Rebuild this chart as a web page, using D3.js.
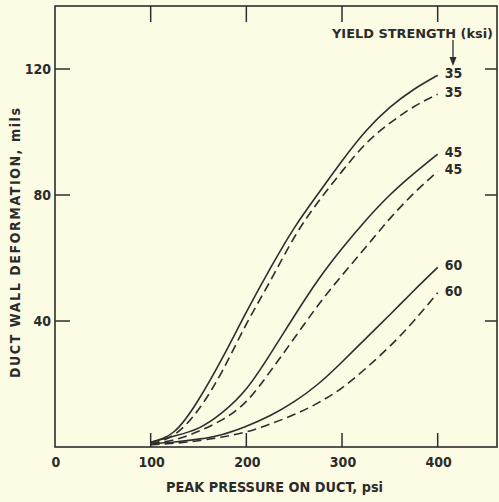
<!DOCTYPE html>
<html>
<head>
<meta charset="utf-8">
<script src="https://cdn.jsdelivr.net/npm/d3@7"></script>
<style>
  html, body { margin: 0; padding: 0; background: #fcfbe3; }
  svg { display: block; }
  text { font-family: "DejaVu Sans Condensed", "Liberation Sans Narrow", "DejaVu Sans", sans-serif; font-weight: bold; fill: #2b2b2b; }
</style>
</head>
<body>
<svg id="chart" width="499" height="502"></svg>
<script>
// ---- data ----
const pressure = [100, 125, 150, 175, 200, 225, 250, 275, 300, 325, 350, 375, 400];
const solid35  = [1.5, 5, 15, 28.3, 42.8, 56.7, 69.5, 80.4, 90.8, 100.3, 107.8, 113.5, 118];
const dashed35 = [1.0, 4, 11.9, 24.2, 39, 52.7, 66.5, 77.8, 87.5, 96.3, 102.8, 108, 112];
const solid45  = [1.5, 3.5, 6, 11, 18.5, 29.5, 41.5, 53, 63, 72, 80, 86.8, 93];
const dashed45 = [1.0, 2.3, 5, 8.7, 14.5, 24, 34.5, 45, 54.5, 63.5, 72.5, 80.5, 87.5];
const solid60  = [1.0, 1.6, 2.5, 4.0, 6.6, 10, 14.4, 20, 27, 34.5, 42, 49.6, 57];
const dashed60 = [0.7, 1.2, 2.0, 3.2, 4.8, 7.3, 10.3, 14, 18.8, 25, 32, 40, 49];
const seriesNames = ["35", "35", "45", "45", "60", "60"];
const seriesDashed = [false, true, false, true, false, true];
const seriesValues = [solid35, dashed35, solid45, dashed45, solid60, dashed60];
const xTicks = [0, 100, 200, 300, 400];
const yTicks = [40, 80, 120];
const xTitle = "PEAK PRESSURE ON DUCT, psi";
const yTitle = "DUCT WALL DEFORMATION, mils";
const legendTitle = "YIELD STRENGTH (ksi)";

// ---- layout ----
const svg = d3.select("#chart");
const x = d3.scaleLinear().domain([0, 462]).range([55, 497]);
const y = d3.scaleLinear().domain([0, 140]).range([447, 6]);
const ink = "#2e2e2e";

// frame
svg.append("rect")
  .attr("x", x(0)).attr("y", y(140))
  .attr("width", x(462) - x(0)).attr("height", y(0) - y(140))
  .attr("fill", "none").attr("stroke", ink).attr("stroke-width", 1.6);

// x ticks (bottom inward, top inward)
const xt = xTicks.filter(d => d > 0);
svg.selectAll(".xtb").data(xt).enter().append("line")
  .attr("x1", d => x(d)).attr("x2", d => x(d))
  .attr("y1", y(0)).attr("y2", y(0) - 14)
  .attr("stroke", ink).attr("stroke-width", 1.5);
svg.selectAll(".xtt").data(xt).enter().append("line")
  .attr("x1", d => x(d)).attr("x2", d => x(d))
  .attr("y1", y(140)).attr("y2", y(140) + 16)
  .attr("stroke", ink).attr("stroke-width", 1.5);
// y ticks (left inward, right inward)
svg.selectAll(".ytl").data(yTicks).enter().append("line")
  .attr("x1", x(0)).attr("x2", x(0) + 15)
  .attr("y1", d => y(d)).attr("y2", d => y(d))
  .attr("stroke", ink).attr("stroke-width", 1.5);
svg.selectAll(".ytr").data(yTicks).enter().append("line")
  .attr("x1", x(462)).attr("x2", x(462) - 12)
  .attr("y1", d => y(d)).attr("y2", d => y(d))
  .attr("stroke", ink).attr("stroke-width", 1.5);

// tick labels
svg.selectAll(".xl").data(xTicks).enter().append("text")
  .attr("x", d => x(d) + 1).attr("y", 467)
  .attr("text-anchor", "middle").attr("font-size", 14)
  .text(d => d);
svg.selectAll(".yl").data(yTicks).enter().append("text")
  .attr("x", 51).attr("y", d => y(d) + 5)
  .attr("text-anchor", "end").attr("font-size", 14)
  .text(d => d);

// axis titles
svg.append("text")
  .attr("x", 166).attr("y", 492)
  .attr("font-size", 14)
  .attr("textLength", 217).attr("lengthAdjust", "spacingAndGlyphs")
  .text(xTitle);
svg.append("text")
  .attr("transform", "translate(20,378) rotate(-90)")
  .attr("font-size", 14)
  .attr("textLength", 270).attr("lengthAdjust", "spacing")
  .text(yTitle);

// curves
const line = d3.line()
  .x((d, i) => x(pressure[i]))
  .y(d => y(d))
  .curve(d3.curveNatural);
seriesValues.forEach((vals, k) => {
  svg.append("path")
    .attr("d", line(vals))
    .attr("fill", "none")
    .attr("stroke", ink)
    .attr("stroke-width", 1.6)
    .attr("stroke-dasharray", seriesDashed[k] ? "9,5" : null);
  const last = vals[vals.length - 1];
  svg.append("text")
    .attr("x", x(pressure[pressure.length - 1]) + 7)
    .attr("y", y(last) + 3)
    .attr("font-size", 14)
    .text(seriesNames[k]);
});

// legend title and arrow
svg.append("text")
  .attr("x", 332).attr("y", 38)
  .attr("font-size", 13)
  .attr("textLength", 161).attr("lengthAdjust", "spacingAndGlyphs")
  .text(legendTitle);
svg.append("line")
  .attr("x1", 453).attr("x2", 453).attr("y1", 40).attr("y2", 60)
  .attr("stroke", ink).attr("stroke-width", 1.3);
svg.append("path")
  .attr("d", "M449.5,57 L456.5,57 L453,66 Z")
  .attr("fill", ink);
</script>
</body>
</html>
